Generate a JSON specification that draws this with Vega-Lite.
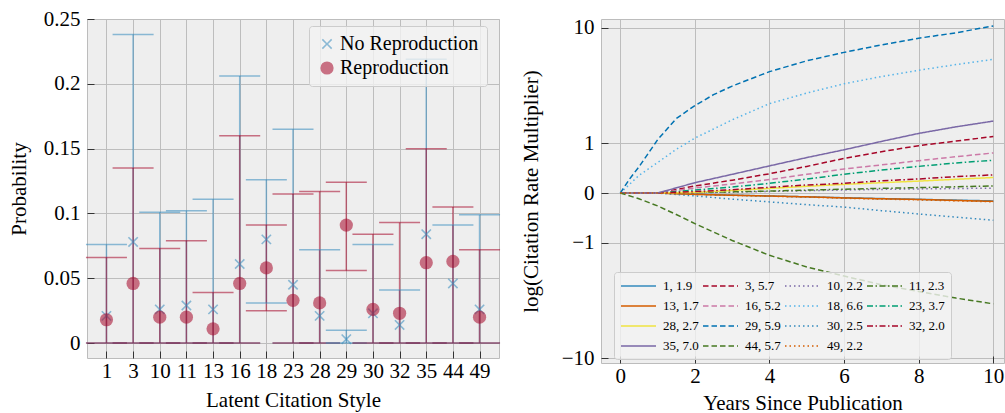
{
  "$schema": "https://vega.github.io/schema/vega-lite/v6.json",
  "background": "white",
  "padding": {"left": 7, "top": 7, "right": 0, "bottom": 0},
  "bounds": "flush",
  "spacing": 102,
  "resolve": {"scale": {"color": "independent", "shape": "independent", "strokeDash": "independent", "x": "independent", "y": "independent"}},
  "config": {
    "font": "Liberation Serif",
    "view": {"fill": "#eeeeee", "stroke": "#bcbcbc", "strokeWidth": 1},
    "axis": {
      "labelFont": "Liberation Serif", "labelFontSize": 21, "labelColor": "#000000",
      "titleFont": "Liberation Serif", "titleFontSize": 21, "titleFontWeight": "normal", "titleColor": "#000000",
      "gridColor": "#bdbdbd", "gridWidth": 1, "domain": false,
      "tickColor": "#333333", "tickSize": -7, "labelPadding": 14, "labelFlush": false, "labelOverlap": false
    },
    "axisX": {"labelPadding": 9},
    "legend": {"labelFont": "Liberation Serif", "labelColor": "#000000"}
  },
  "hconcat": [
    {
      "width": 412,
      "height": 339,
      "data": {"values": [
        {"style": "1", "group": "No Reproduction", "est": 0.021, "lo": 0, "hi": 0.076},
        {"style": "1", "group": "Reproduction", "est": 0.018, "lo": 0, "hi": 0.066},
        {"style": "3", "group": "No Reproduction", "est": 0.078, "lo": 0, "hi": 0.238},
        {"style": "3", "group": "Reproduction", "est": 0.046, "lo": 0, "hi": 0.135},
        {"style": "10", "group": "No Reproduction", "est": 0.026, "lo": 0, "hi": 0.101},
        {"style": "10", "group": "Reproduction", "est": 0.020, "lo": 0, "hi": 0.073},
        {"style": "11", "group": "No Reproduction", "est": 0.029, "lo": 0, "hi": 0.102},
        {"style": "11", "group": "Reproduction", "est": 0.020, "lo": 0, "hi": 0.079},
        {"style": "13", "group": "No Reproduction", "est": 0.026, "lo": 0, "hi": 0.111},
        {"style": "13", "group": "Reproduction", "est": 0.011, "lo": 0, "hi": 0.039},
        {"style": "16", "group": "No Reproduction", "est": 0.061, "lo": 0, "hi": 0.206},
        {"style": "16", "group": "Reproduction", "est": 0.046, "lo": 0, "hi": 0.160},
        {"style": "18", "group": "No Reproduction", "est": 0.080, "lo": 0.031, "hi": 0.126},
        {"style": "18", "group": "Reproduction", "est": 0.058, "lo": 0.025, "hi": 0.091},
        {"style": "23", "group": "No Reproduction", "est": 0.045, "lo": 0, "hi": 0.165},
        {"style": "23", "group": "Reproduction", "est": 0.033, "lo": 0, "hi": 0.115},
        {"style": "28", "group": "No Reproduction", "est": 0.021, "lo": 0, "hi": 0.072},
        {"style": "28", "group": "Reproduction", "est": 0.031, "lo": 0, "hi": 0.117},
        {"style": "29", "group": "No Reproduction", "est": 0.003, "lo": 0, "hi": 0.010},
        {"style": "29", "group": "Reproduction", "est": 0.091, "lo": 0.056, "hi": 0.124},
        {"style": "30", "group": "No Reproduction", "est": 0.023, "lo": 0, "hi": 0.076},
        {"style": "30", "group": "Reproduction", "est": 0.026, "lo": 0, "hi": 0.084},
        {"style": "32", "group": "No Reproduction", "est": 0.014, "lo": 0, "hi": 0.041},
        {"style": "32", "group": "Reproduction", "est": 0.023, "lo": 0, "hi": 0.093},
        {"style": "35", "group": "No Reproduction", "est": 0.084, "lo": 0, "hi": 0.219},
        {"style": "35", "group": "Reproduction", "est": 0.062, "lo": 0, "hi": 0.150},
        {"style": "44", "group": "No Reproduction", "est": 0.046, "lo": 0, "hi": 0.091},
        {"style": "44", "group": "Reproduction", "est": 0.063, "lo": 0, "hi": 0.105},
        {"style": "49", "group": "No Reproduction", "est": 0.026, "lo": 0, "hi": 0.099},
        {"style": "49", "group": "Reproduction", "est": 0.020, "lo": 0, "hi": 0.072}
      ]},
      "layer": [
        {
          "mark": {"type": "rule", "strokeWidth": 1.5, "opacity": 0.55},
          "encoding": {
            "x": {"field": "style", "type": "ordinal", "sort": ["1","3","10","11","13","16","18","23","28","29","30","32","35","44","49"], "scale": {"type": "point", "padding": 0.73}, "axis": {"title": "Latent Citation Style", "labelAngle": 0, "grid": true, "titleY": 42, "titleBaseline": "middle"}},
            "y": {"field": "lo", "type": "quantitative", "title": "Probability", "scale": {"domain": [-0.0115, 0.25], "nice": false, "zero": false}, "axis": {"title": "Probability", "values": [0, 0.05, 0.1, 0.15, 0.2, 0.25], "format": "~g", "grid": true, "titleX": -68, "titleBaseline": "middle"}},
            "y2": {"field": "hi"},
            "color": {"field": "group", "type": "nominal", "title": null, "scale": {"domain": ["No Reproduction", "Reproduction"], "range": ["#348ABD", "#A60628"]}}
          }
        },
        {
          "mark": {"type": "tick", "size": 41, "thickness": 1.5, "opacity": 0.55},
          "encoding": {
            "x": {"field": "style", "type": "ordinal", "sort": ["1","3","10","11","13","16","18","23","28","29","30","32","35","44","49"]},
            "y": {"field": "lo", "type": "quantitative", "title": "Probability"},
            "color": {"field": "group", "type": "nominal", "title": null}
          }
        },
        {
          "mark": {"type": "tick", "size": 41, "thickness": 1.5, "opacity": 0.55},
          "encoding": {
            "x": {"field": "style", "type": "ordinal", "sort": ["1","3","10","11","13","16","18","23","28","29","30","32","35","44","49"]},
            "y": {"field": "hi", "type": "quantitative", "title": "Probability"},
            "color": {"field": "group", "type": "nominal", "title": null}
          }
        },
        {
          "mark": {"type": "point", "filled": true, "opacity": 0.55, "size": 175, "strokeWidth": 0},
          "encoding": {
            "x": {"field": "style", "type": "ordinal", "sort": ["1","3","10","11","13","16","18","23","28","29","30","32","35","44","49"]},
            "y": {"field": "est", "type": "quantitative", "title": "Probability"},
            "color": {"field": "group", "type": "nominal", "title": null, "legend": {"title": null, "orient": "none", "legendX": 222, "legendY": 7, "labelFontSize": 20, "symbolSize": 175, "symbolOpacity": 0.55, "symbolStrokeWidth": 0, "fillColor": "rgba(242,242,242,0.8)", "strokeColor": "#cccccc", "padding": 8, "rowPadding": 4, "labelOffset": 3, "cornerRadius": 3}},
            "shape": {"field": "group", "type": "nominal", "title": null, "scale": {"domain": ["No Reproduction", "Reproduction"], "range": ["M-0.62,0.79L0,0.17L0.62,0.79L0.79,0.62L0.17,0L0.79,-0.62L0.62,-0.79L0,-0.17L-0.62,-0.79L-0.79,-0.62L-0.17,0L-0.79,0.62Z", "circle"]}, "legend": {"title": null, "orient": "none", "legendX": 222, "legendY": 7, "labelFontSize": 20, "symbolSize": 175, "symbolOpacity": 0.55, "symbolStrokeWidth": 0, "fillColor": "rgba(242,242,242,0.8)", "strokeColor": "#cccccc", "padding": 8, "rowPadding": 4, "labelOffset": 3, "cornerRadius": 3}}
          }
        }
      ]
    },
    {
      "width": 403,
      "height": 344,
      "data": {"values": [
        {"s": "1, 1.9", "t": 0, "v": 0}, {"s": "1, 1.9", "t": 1, "v": 0}, {"s": "1, 1.9", "t": 2, "v": -0.015}, {"s": "1, 1.9", "t": 3, "v": -0.028}, {"s": "1, 1.9", "t": 4, "v": -0.04}, {"s": "1, 1.9", "t": 5, "v": -0.052}, {"s": "1, 1.9", "t": 6, "v": -0.065}, {"s": "1, 1.9", "t": 7, "v": -0.077}, {"s": "1, 1.9", "t": 8, "v": -0.088}, {"s": "1, 1.9", "t": 9, "v": -0.1}, {"s": "1, 1.9", "t": 10, "v": -0.112},
        {"s": "3, 5.7", "t": 0, "v": 0}, {"s": "3, 5.7", "t": 1, "v": 0}, {"s": "3, 5.7", "t": 2, "v": 0.1}, {"s": "3, 5.7", "t": 3, "v": 0.19}, {"s": "3, 5.7", "t": 4, "v": 0.3}, {"s": "3, 5.7", "t": 5, "v": 0.44}, {"s": "3, 5.7", "t": 6, "v": 0.61}, {"s": "3, 5.7", "t": 7, "v": 0.77}, {"s": "3, 5.7", "t": 8, "v": 0.93}, {"s": "3, 5.7", "t": 9, "v": 1.06}, {"s": "3, 5.7", "t": 10, "v": 1.2},
        {"s": "10, 2.2", "t": 0, "v": 0}, {"s": "10, 2.2", "t": 1, "v": 0}, {"s": "10, 2.2", "t": 2, "v": 0.005}, {"s": "10, 2.2", "t": 3, "v": 0.012}, {"s": "10, 2.2", "t": 4, "v": 0.022}, {"s": "10, 2.2", "t": 5, "v": 0.032}, {"s": "10, 2.2", "t": 6, "v": 0.042}, {"s": "10, 2.2", "t": 7, "v": 0.05}, {"s": "10, 2.2", "t": 8, "v": 0.057}, {"s": "10, 2.2", "t": 9, "v": 0.063}, {"s": "10, 2.2", "t": 10, "v": 0.068},
        {"s": "11, 2.3", "t": 0, "v": 0}, {"s": "11, 2.3", "t": 1, "v": 0}, {"s": "11, 2.3", "t": 2, "v": 0.006}, {"s": "11, 2.3", "t": 3, "v": 0.016}, {"s": "11, 2.3", "t": 4, "v": 0.027}, {"s": "11, 2.3", "t": 5, "v": 0.04}, {"s": "11, 2.3", "t": 6, "v": 0.053}, {"s": "11, 2.3", "t": 7, "v": 0.065}, {"s": "11, 2.3", "t": 8, "v": 0.076}, {"s": "11, 2.3", "t": 9, "v": 0.088}, {"s": "11, 2.3", "t": 10, "v": 0.1},
        {"s": "13, 1.7", "t": 0, "v": 0}, {"s": "13, 1.7", "t": 1, "v": 0}, {"s": "13, 1.7", "t": 2, "v": -0.018}, {"s": "13, 1.7", "t": 3, "v": -0.03}, {"s": "13, 1.7", "t": 4, "v": -0.041}, {"s": "13, 1.7", "t": 5, "v": -0.052}, {"s": "13, 1.7", "t": 6, "v": -0.068}, {"s": "13, 1.7", "t": 7, "v": -0.08}, {"s": "13, 1.7", "t": 8, "v": -0.09}, {"s": "13, 1.7", "t": 9, "v": -0.105}, {"s": "13, 1.7", "t": 10, "v": -0.119},
        {"s": "16, 5.2", "t": 0, "v": 0}, {"s": "16, 5.2", "t": 1, "v": 0}, {"s": "16, 5.2", "t": 2, "v": 0.07}, {"s": "16, 5.2", "t": 3, "v": 0.13}, {"s": "16, 5.2", "t": 4, "v": 0.2}, {"s": "16, 5.2", "t": 5, "v": 0.29}, {"s": "16, 5.2", "t": 6, "v": 0.39}, {"s": "16, 5.2", "t": 7, "v": 0.47}, {"s": "16, 5.2", "t": 8, "v": 0.56}, {"s": "16, 5.2", "t": 9, "v": 0.65}, {"s": "16, 5.2", "t": 10, "v": 0.74},
        {"s": "18, 6.6", "t": 0, "v": 0}, {"s": "18, 6.6", "t": 0.5, "v": 0.27}, {"s": "18, 6.6", "t": 1, "v": 0.52}, {"s": "18, 6.6", "t": 1.5, "v": 0.83}, {"s": "18, 6.6", "t": 2, "v": 1.15}, {"s": "18, 6.6", "t": 3, "v": 1.8}, {"s": "18, 6.6", "t": 4, "v": 2.55}, {"s": "18, 6.6", "t": 5, "v": 3.15}, {"s": "18, 6.6", "t": 6, "v": 3.76}, {"s": "18, 6.6", "t": 7, "v": 4.3}, {"s": "18, 6.6", "t": 8, "v": 4.82}, {"s": "18, 6.6", "t": 9, "v": 5.33}, {"s": "18, 6.6", "t": 10, "v": 5.85},
        {"s": "23, 3.7", "t": 0, "v": 0}, {"s": "23, 3.7", "t": 1, "v": 0}, {"s": "23, 3.7", "t": 2, "v": 0.04}, {"s": "23, 3.7", "t": 3, "v": 0.085}, {"s": "23, 3.7", "t": 4, "v": 0.14}, {"s": "23, 3.7", "t": 5, "v": 0.21}, {"s": "23, 3.7", "t": 6, "v": 0.29}, {"s": "23, 3.7", "t": 7, "v": 0.37}, {"s": "23, 3.7", "t": 8, "v": 0.44}, {"s": "23, 3.7", "t": 9, "v": 0.51}, {"s": "23, 3.7", "t": 10, "v": 0.57},
        {"s": "28, 2.7", "t": 0, "v": 0}, {"s": "28, 2.7", "t": 1, "v": 0}, {"s": "28, 2.7", "t": 2, "v": 0.01}, {"s": "28, 2.7", "t": 3, "v": 0.035}, {"s": "28, 2.7", "t": 4, "v": 0.064}, {"s": "28, 2.7", "t": 5, "v": 0.095}, {"s": "28, 2.7", "t": 6, "v": 0.124}, {"s": "28, 2.7", "t": 7, "v": 0.15}, {"s": "28, 2.7", "t": 8, "v": 0.175}, {"s": "28, 2.7", "t": 9, "v": 0.205}, {"s": "28, 2.7", "t": 10, "v": 0.235},
        {"s": "29, 5.9", "t": 0, "v": 0}, {"s": "29, 5.9", "t": 0.25, "v": 0.21}, {"s": "29, 5.9", "t": 0.5, "v": 0.43}, {"s": "29, 5.9", "t": 0.75, "v": 0.73}, {"s": "29, 5.9", "t": 1, "v": 1.1}, {"s": "29, 5.9", "t": 1.5, "v": 1.85}, {"s": "29, 5.9", "t": 2, "v": 2.45}, {"s": "29, 5.9", "t": 2.5, "v": 3.05}, {"s": "29, 5.9", "t": 3, "v": 3.6}, {"s": "29, 5.9", "t": 4, "v": 4.7}, {"s": "29, 5.9", "t": 5, "v": 5.7}, {"s": "29, 5.9", "t": 6, "v": 6.6}, {"s": "29, 5.9", "t": 7, "v": 7.5}, {"s": "29, 5.9", "t": 8, "v": 8.4}, {"s": "29, 5.9", "t": 9, "v": 9.2}, {"s": "29, 5.9", "t": 10, "v": 10.3},
        {"s": "30, 2.5", "t": 0, "v": 0}, {"s": "30, 2.5", "t": 1, "v": 0}, {"s": "30, 2.5", "t": 2, "v": -0.04}, {"s": "30, 2.5", "t": 3, "v": -0.085}, {"s": "30, 2.5", "t": 4, "v": -0.127}, {"s": "30, 2.5", "t": 5, "v": -0.17}, {"s": "30, 2.5", "t": 6, "v": -0.21}, {"s": "30, 2.5", "t": 7, "v": -0.27}, {"s": "30, 2.5", "t": 8, "v": -0.33}, {"s": "30, 2.5", "t": 9, "v": -0.39}, {"s": "30, 2.5", "t": 10, "v": -0.45},
        {"s": "32, 2.0", "t": 0, "v": 0}, {"s": "32, 2.0", "t": 1, "v": 0}, {"s": "32, 2.0", "t": 2, "v": 0.02}, {"s": "32, 2.0", "t": 3, "v": 0.045}, {"s": "32, 2.0", "t": 4, "v": 0.08}, {"s": "32, 2.0", "t": 5, "v": 0.115}, {"s": "32, 2.0", "t": 6, "v": 0.14}, {"s": "32, 2.0", "t": 7, "v": 0.18}, {"s": "32, 2.0", "t": 8, "v": 0.21}, {"s": "32, 2.0", "t": 9, "v": 0.25}, {"s": "32, 2.0", "t": 10, "v": 0.28},
        {"s": "35, 7.0", "t": 0, "v": 0}, {"s": "35, 7.0", "t": 1, "v": 0}, {"s": "35, 7.0", "t": 2, "v": 0.15}, {"s": "35, 7.0", "t": 3, "v": 0.29}, {"s": "35, 7.0", "t": 4, "v": 0.45}, {"s": "35, 7.0", "t": 5, "v": 0.63}, {"s": "35, 7.0", "t": 6, "v": 0.82}, {"s": "35, 7.0", "t": 7, "v": 1.05}, {"s": "35, 7.0", "t": 8, "v": 1.3}, {"s": "35, 7.0", "t": 9, "v": 1.53}, {"s": "35, 7.0", "t": 10, "v": 1.75},
        {"s": "44, 5.7", "t": 0, "v": 0}, {"s": "44, 5.7", "t": 0.5, "v": -0.08}, {"s": "44, 5.7", "t": 1, "v": -0.19}, {"s": "44, 5.7", "t": 1.5, "v": -0.34}, {"s": "44, 5.7", "t": 2, "v": -0.52}, {"s": "44, 5.7", "t": 3, "v": -0.93}, {"s": "44, 5.7", "t": 4, "v": -1.39}, {"s": "44, 5.7", "t": 5, "v": -1.83}, {"s": "44, 5.7", "t": 6, "v": -2.23}, {"s": "44, 5.7", "t": 7, "v": -2.67}, {"s": "44, 5.7", "t": 8, "v": -3.05}, {"s": "44, 5.7", "t": 9, "v": -3.47}, {"s": "44, 5.7", "t": 10, "v": -3.87},
        {"s": "49, 2.2", "t": 0, "v": 0}, {"s": "49, 2.2", "t": 1, "v": 0}, {"s": "49, 2.2", "t": 2, "v": -0.018}, {"s": "49, 2.2", "t": 3, "v": -0.032}, {"s": "49, 2.2", "t": 4, "v": -0.044}, {"s": "49, 2.2", "t": 5, "v": -0.056}, {"s": "49, 2.2", "t": 6, "v": -0.072}, {"s": "49, 2.2", "t": 7, "v": -0.085}, {"s": "49, 2.2", "t": 8, "v": -0.096}, {"s": "49, 2.2", "t": 9, "v": -0.11}, {"s": "49, 2.2", "t": 10, "v": -0.125}
      ]},
      "mark": {"type": "line", "strokeWidth": 1.5},
      "encoding": {
        "x": {"field": "t", "type": "quantitative", "scale": {"domain": [-0.517, 10.287], "nice": false, "zero": false}, "axis": {"title": "Years Since Publication", "values": [0, 2, 4, 6, 8, 10], "grid": true, "titleY": 40, "titleBaseline": "middle"}},
        "y": {"field": "v", "type": "quantitative", "scale": {"type": "symlog", "constant": 0.88, "domain": [-10.8, 11.55], "nice": false, "zero": false}, "axis": {"title": "log(Citation Rate Multiplier)", "values": [-10, -1, 0, 1, 10], "format": "d", "grid": true, "titleX": -70, "titleBaseline": "middle"}},
        "color": {"field": "s", "type": "nominal", "scale": {"domain": ["1, 1.9","3, 5.7","10, 2.2","11, 2.3","13, 1.7","16, 5.2","18, 6.6","23, 3.7","28, 2.7","29, 5.9","30, 2.5","32, 2.0","35, 7.0","44, 5.7","49, 2.2"], "range": ["#348ABD","#A60628","#7A68A6","#467821","#D55E00","#CC79A7","#56B4E9","#009E73","#F0E442","#0072B2","#348ABD","#A60628","#7A68A6","#467821","#D55E00"]}, "legend": {"title": null, "orient": "none", "legendX": 13, "legendY": 253, "columns": 4, "direction": "horizontal", "symbolType": "M-1,0L4,0", "symbolSize": 196, "symbolStrokeWidth": 1.5, "labelFontSize": 13, "labelOffset": 27, "columnPadding": 1, "rowPadding": 5, "padding": 6, "fillColor": "rgba(242,242,242,0.8)", "strokeColor": "#cccccc", "cornerRadius": 3}},
        "strokeDash": {"field": "s", "type": "nominal", "scale": {"domain": ["1, 1.9","3, 5.7","10, 2.2","11, 2.3","13, 1.7","16, 5.2","18, 6.6","23, 3.7","28, 2.7","29, 5.9","30, 2.5","32, 2.0","35, 7.0","44, 5.7","49, 2.2"], "range": [[1,0],[5.5,3],[1.5,3],[6,2.5,1.5,2.5],[1,0],[5.5,3],[1.5,3],[6,2.5,1.5,2.5],[1,0],[5.5,3],[1.5,3],[6,2.5,1.5,2.5],[1,0],[5.5,3],[1.5,3]]}, "legend": {"title": null, "orient": "none", "legendX": 13, "legendY": 253, "columns": 4, "direction": "horizontal", "symbolType": "M-1,0L4,0", "symbolSize": 196, "symbolStrokeWidth": 1.5, "labelFontSize": 13, "labelOffset": 27, "columnPadding": 1, "rowPadding": 5, "padding": 6, "fillColor": "rgba(242,242,242,0.8)", "strokeColor": "#cccccc", "cornerRadius": 3}}
      }
    }
  ]
}
